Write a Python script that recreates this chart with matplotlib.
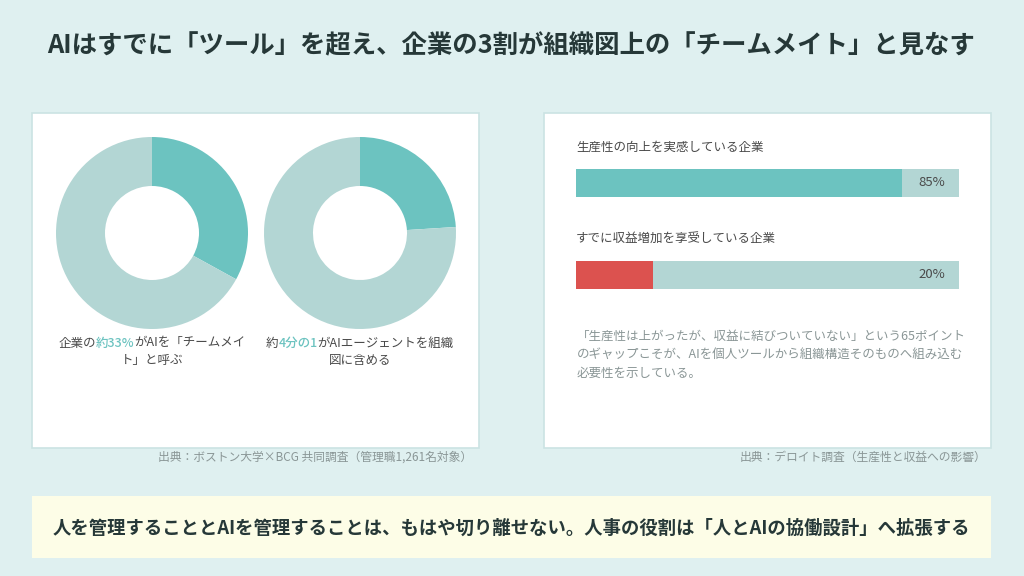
import matplotlib

matplotlib.use("Agg")
import matplotlib.pyplot as plt
from matplotlib.patches import Rectangle

plt.rcParams["font.family"] = ["Noto Sans CJK JP", "DejaVu Sans"]

# --- データ ---
title = "AIはすでに「ツール」を超え、企業の3割が組織図上の「チームメイト」と見なす"
donut_values = [33, 24]  # 「チームメイト」扱い / AIエージェントを組織図に含める
donut_captions = [
    [[("企業の", False), ("約33%", True), ("がAIを「チームメイ", False)], [("ト」と呼ぶ", False)]],
    [[("約", False), ("4分の1", True), ("がAIエージェントを組織", False)], [("図に含める", False)]],
]
bar_labels = ["生産性の向上を実感している企業", "すでに収益増加を享受している企業"]
bar_values = [85, 20]
note_lines = [
    "「生産性は上がったが、収益に結びついていない」という65ポイント",
    "のギャップこそが、AIを個人ツールから組織構造そのものへ組み込む",
    "必要性を示している。",
]
source_left = "出典：ボストン大学×BCG 共同調査（管理職1,261名対象）"
source_right = "出典：デロイト調査（生産性と収益への影響）"
footer = "人を管理することとAIを管理することは、もはや切り離せない。人事の役割は「人とAIの協働設計」へ拡張する"

BG = "#dff0f0"
TEAL = "#6cc3c0"
LIGHT = "#b3d6d4"
RED = "#dc524f"
BORDER = "#cbe3e3"
DARK = "#263838"
TEXT = "#4a4a4a"
GRAY = "#8a9696"

W, H = 1024, 576
fig = plt.figure(figsize=(W / 100, H / 100), dpi=100, facecolor=BG)

# 全体をピクセル座標で扱う背景用の軸
base = fig.add_axes([0, 0, 1, 1])
base.set_xlim(0, W)
base.set_ylim(H, 0)
base.axis("off")


def px_axes(x0, y0, x1, y1, **kw):
    return fig.add_axes([x0 / W, 1 - y1 / H, (x1 - x0) / W, (y1 - y0) / H], **kw)


base.text(511, 46, title, ha="center", va="center", fontsize=18.3,
          fontweight="bold", color=DARK)

# パネル
for x0, x1 in [(32, 479), (544, 991)]:
    base.add_patch(Rectangle((x0, 113), x1 - x0, 335, facecolor="white",
                             edgecolor=BORDER, linewidth=1.2))
base.add_patch(Rectangle((32, 496), 959, 62, facecolor="#fdfde7",
                         edgecolor="none"))

# ドーナツ
R, R_IN = 96, 47
for cx, val in zip([152, 360], donut_values):
    ax = px_axes(cx - R, 233 - R, cx + R, 233 + R)
    ax.pie([val, 100 - val], colors=[TEAL, LIGHT], startangle=90,
           counterclock=False, radius=1,
           wedgeprops=dict(width=1 - R_IN / R, edgecolor="none"))
    ax.set_xlim(-1, 1)
    ax.set_ylim(-1, 1)
    ax.set_aspect("equal")
    ax.axis("off")

# 色分けしたキャプション (中央揃え)
fig.canvas.draw()
renderer = fig.canvas.get_renderer()


def rich_line(cx, y, parts, size=9):
    texts = []
    x = 0
    for s, hl in parts:
        t = base.text(x, y, s, ha="left", va="center", fontsize=size,
                      color=TEAL if hl else TEXT, fontweight="medium" if hl else "normal")
        w, _, _ = renderer.get_text_width_height_descent(
            s, t.get_fontproperties(), ismath=False)
        texts.append((t, w))
        x += w
    start = cx - x / 2
    for t, w in texts:
        t.set_x(start)
        start += w


for cx, lines in zip([152, 360], donut_captions):
    for i, parts in enumerate(lines):
        rich_line(cx, 343 + i * 17.5, parts)

# 横棒グラフ
bax = px_axes(576, 169, 959, 289)
bh = 28 / 92
ys = list(range(len(bar_values)))
bax.barh(ys, [100] * len(ys), height=bh, color=LIGHT)
bax.barh(ys, bar_values, height=bh, color=[TEAL, RED])
bax.set_xlim(0, 100)
bax.set_ylim(1 + bh / 2, -bh / 2)
bax.axis("off")
for y, v in zip(ys, bar_values):
    bax.text(93, y, f"{v}%", ha="center", va="center", fontsize=9.5, color=TEXT)

for i, lab in enumerate(bar_labels):
    base.text(576, 147 + i * 92, lab, ha="left", va="center", fontsize=9,
              color=TEXT)

for i, line in enumerate(note_lines):
    base.text(577, 336 + i * 18.5, line, ha="left", va="center", fontsize=9,
              color=GRAY)

base.text(472, 457, source_left, ha="right", va="center", fontsize=8.5, color=GRAY)
base.text(986, 457, source_right, ha="right", va="center", fontsize=8.5, color=GRAY)

base.text(511, 528, footer, ha="center", va="center", fontsize=13.2,
          fontweight="bold", color=DARK)

fig.savefig("out.png", dpi=100, facecolor=BG)
